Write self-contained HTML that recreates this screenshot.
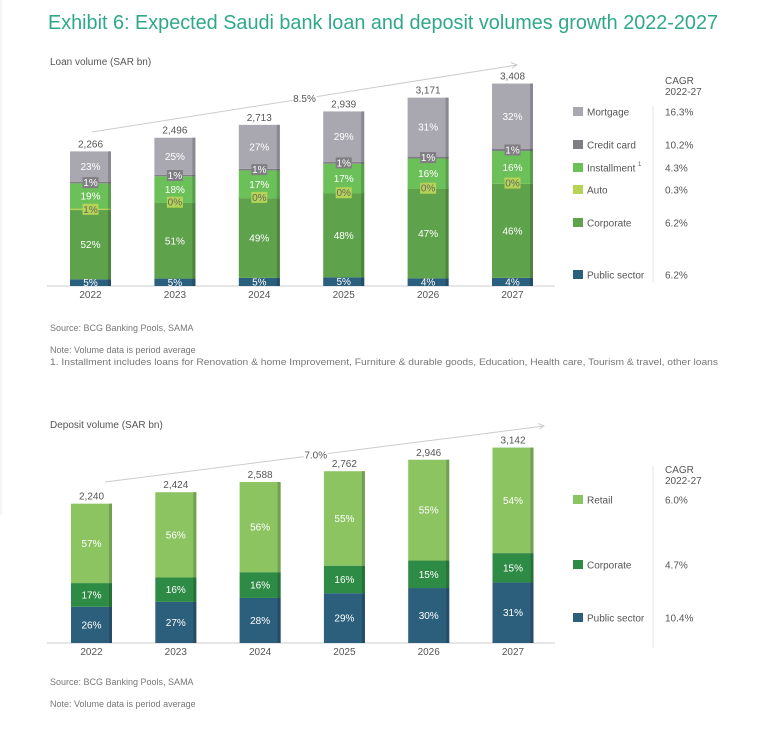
<!DOCTYPE html>
<html><head><meta charset="utf-8"><style>
body{margin:0;background:#fff;}
svg text{font-family:"Liberation Sans",sans-serif;}
</style></head><body>
<svg id="s" width="768" height="741" xmlns="http://www.w3.org/2000/svg">
<rect x="0" y="0" width="768" height="741" fill="#fff"/>
<line x1="1" y1="0" x2="1" y2="515" stroke="#eee" stroke-width="1"/>
<text x="48" y="29" font-size="20" fill="#2fa88a" textLength="670" lengthAdjust="spacingAndGlyphs">Exhibit 6: Expected Saudi bank loan and deposit volumes growth 2022-2027</text>
<text x="50" y="65" font-size="10" fill="#555">Loan volume (SAR bn)</text>
<text x="50" y="331" font-size="9" fill="#777">Source: BCG Banking Pools, SAMA</text>
<text x="50" y="353" font-size="9" fill="#777">Note: Volume data is period average</text>
<text x="50" y="365" font-size="9" fill="#777" textLength="668" lengthAdjust="spacingAndGlyphs">1. Installment includes loans for Renovation &amp; home Improvement, Furniture &amp; durable goods, Education, Health care, Tourism &amp; travel, other loans</text>
<text x="50" y="428" font-size="10" fill="#555">Deposit volume (SAR bn)</text>
<text x="50" y="685" font-size="9" fill="#777">Source: BCG Banking Pools, SAMA</text>
<text x="50" y="707" font-size="9" fill="#777">Note: Volume data is period average</text>
<g id="loan"></g>
<g id="dep"></g>
</svg>
<script>
const years=["2022","2023","2024","2025","2026","2027"];
const loanTotals=[2266,2496,2713,2939,3171,3408];
const loanSeries=["Public sector","Corporate","Auto","Installment","Credit card","Mortgage"];
const loanPublic=[5,5,5,5,4,4];
const loanCorporate=[52,51,49,48,47,46];
const loanAuto=[1,0,0,0,0,0];
const loanInstallment=[19,18,17,17,16,16];
const loanCredit=[1,1,1,1,1,1];
const loanMortgage=[23,25,27,29,31,32];
const loanCagr=["6.2%","6.2%","0.3%","4.3%","10.2%","16.3%"];
const depTotals=[2240,2424,2588,2762,2946,3142];
const depSeries=["Public sector","Corporate","Retail"];
const depPublic=[26,27,28,29,30,31];
const depCorporate=[17,16,16,16,15,15];
const depRetail=[57,56,56,55,55,54];
const depCagr=["10.4%","4.7%","6.0%"];
const NS="http://www.w3.org/2000/svg";
function mk(p,t,a,txt){const e=document.createElementNS(NS,t);for(const k in a)e.setAttribute(k,a[k]);if(txt!==undefined)e.textContent=txt;p.appendChild(e);return e;}
function dark(c){const n=parseInt(c.slice(1),16);let r=(n>>16)*0.82|0,g=((n>>8)&255)*0.82|0,b=(n&255)*0.82|0;return `rgb(${r},${g},${b})`;}
function chart(g,cfg){
  const xs=i=>cfg.x0+i*cfg.step;
  const ys=v=>v*cfg.scale;
  mk(g,'line',{x1:cfg.axisX1,y1:cfg.base,x2:cfg.axisX2,y2:cfg.base,stroke:"#ccc","stroke-width":1});
  const labels=[];
  years.forEach((yr,i)=>{
    const x=xs(i),w=cfg.bw,H=ys(cfg.totals[i]);
    let sum=0;cfg.vals.forEach(a=>sum+=a[i]);
    let y=cfg.base;
    cfg.vals.forEach((a,si)=>{
      const h=H*a[i]/sum; const hh=Math.max(h,1.5);
      const r=mk(g,'rect',{x:x,y:y-hh,width:w,height:hh,fill:cfg.colors[si]});
      
      
      mk(g,'rect',{x:x+w-3,y:y-hh,width:3,height:hh,fill:dark(cfg.colors[si])});
      labels.push({x:x+w/2,cy:y-hh/2,v:a[i],si:si});
      y-=h;
    });
    const t=mk(g,'text',{x:x+w/2,y:cfg.base-H-4,"font-size":10,"text-anchor":"middle",fill:"#555"},cfg.totals[i].toLocaleString('en-US'));
    
    
    const xl=mk(g,'text',{x:x+w/2,y:cfg.base+12,"font-size":10,"text-anchor":"middle",fill:"#555"},yr);
    
    
  });
  labels.forEach(L=>{
    const small=L.v<=1;
    let fill="#fff";
    if(small){
      const c=cfg.colors[L.si];
      mk(g,'rect',{x:L.x-8,y:L.cy-5.5,width:16,height:11,fill:c});
      fill=(cfg.names[L.si]==="Auto")?"#666":"#fff";
    }
    const lab=mk(g,'text',{x:L.x,y:L.cy+3.5,"font-size":10,"text-anchor":"middle",fill:fill},L.v+"%");
    
    
  });
  const a=cfg.arrow;
  mk(g,'line',{x1:a[0],y1:a[1],x2:a[2],y2:a[3],stroke:"#ccc","stroke-width":1});
  mk(g,'path',{d:`M${a[2]-6},${a[3]-2.5} L${a[2]},${a[3]} L${a[2]-5},${a[3]+3}`,stroke:"#ccc",fill:"none"});
  const mx=a[0]+(a[2]-a[0])*cfg.lp, my=a[1]+(a[3]-a[1])*cfg.lp;
  mk(g,'rect',{x:mx-12,y:my-7,width:24,height:12,fill:"#fff"});
  const ct=mk(g,'text',{x:mx,y:my+3.5,"font-size":10,"text-anchor":"middle",fill:"#555"},cfg.cagrAll);
  
  
  mk(g,'text',{x:665,y:cfg.hy,"font-size":10,fill:"#555"},"CAGR");
  mk(g,'text',{x:665,y:cfg.hy+11,"font-size":10,fill:"#555"},"2022-27");
  mk(g,'line',{x1:653,y1:cfg.div[0],x2:653,y2:cfg.div[1],stroke:"#e4e4e4"});
  cfg.names.forEach((n,si)=>{
    const ly=cfg.ly[si];
    const le=mk(g,'g',{});
    
    
    mk(le,'rect',{x:573,y:ly-5,width:10,height:9,fill:cfg.colors[si]});
    mk(le,'text',{x:587,y:ly+3.5,"font-size":10,fill:"#555"},n);
    if(n==="Installment"){mk(le,'text',{x:638,y:ly-2,"font-size":6,fill:"#555"},"1");}
    mk(le,'text',{x:665,y:ly+3.5,"font-size":10,fill:"#555"},cfg.cagr[si]);
  });
}
chart(document.getElementById('loan'),{key:'loan',x0:70,step:84.4,bw:41,base:286,scale:0.0594,totals:loanTotals,
 vals:[loanPublic,loanCorporate,loanAuto,loanInstallment,loanCredit,loanMortgage],names:loanSeries,
 colors:["#2a5f7e","#5fa24c","#b5d455","#6cc05a","#7f7f83","#a9a7b0"],axisX1:47,axisX2:555,
 arrow:[92,132,517,65],lp:0.5,cagrAll:"8.5%",hy:84,div:[106,283],ly:[275,223,190,168,145,112],cagr:loanCagr});
chart(document.getElementById('dep'),{key:'deposit',x0:71,step:84.3,bw:41,base:643,scale:0.0622,totals:depTotals,
 vals:[depPublic,depCorporate,depRetail],names:depSeries,
 colors:["#2c5f7c","#2e8b45","#8cc462"],axisX1:47,axisX2:555,
 arrow:[105,482,544,426],lp:0.48,cagrAll:"7.0%",hy:473,div:[466,648],ly:[618,565,500],cagr:depCagr});
</script>
</body></html>
